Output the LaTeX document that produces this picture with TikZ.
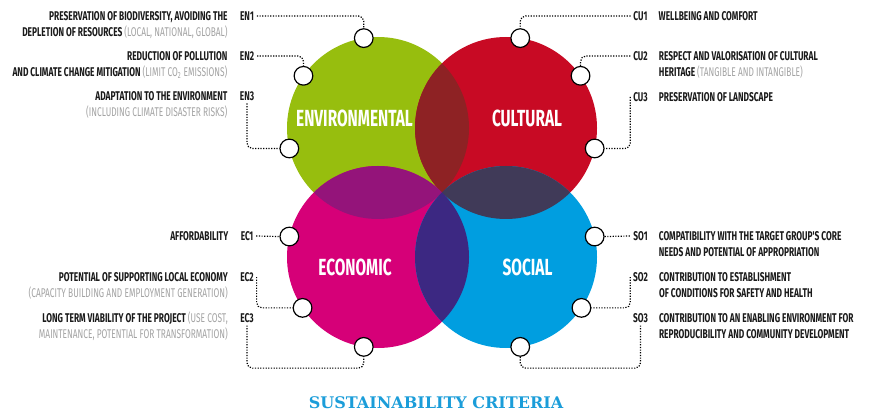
\documentclass[tikz,border=0pt]{standalone}
\usepackage{fontspec}
\usepackage{tikz}
\usetikzlibrary{positioning}
\newfontfamily\condfont[FakeStretch=0.66]{Fira Sans}
\newfontfamily\titlefont{DejaVu Serif}
\definecolor{envgreen}{HTML}{97BE0E}
\definecolor{culred}{HTML}{C80A24}
\definecolor{ecomagenta}{HTML}{D60078}
\definecolor{socblue}{HTML}{009EE0}
\definecolor{envcul}{HTML}{8E2224}
\definecolor{enveco}{HTML}{94147A}
\definecolor{culsoc}{HTML}{403A58}
\definecolor{ecosoc}{HTML}{3C2882}
\definecolor{textblack}{HTML}{1A1A1A}
\definecolor{notegray}{HTML}{A3A3A3}
\definecolor{titleblue}{HTML}{1B9DD9}
\tikzstyle{pillar} = [circle, minimum size=136.5pt, inner sep=0pt]
\tikzstyle{pillarname} = [text=white, font=\condfont\bfseries\fontsize{17.5}{18}\selectfont]
\tikzstyle{marker} = [circle, draw=black, fill=white, line width=0.9pt, minimum size=14pt, inner sep=0pt]
\tikzstyle{tag} = [text=textblack, font=\condfont\bfseries\fontsize{9.5}{12}\selectfont, inner sep=2pt]
\tikzstyle{crit} = [text=textblack, font=\condfont\bfseries\fontsize{9.5}{12}\selectfont, inner sep=0pt]
\tikzstyle{critleft} = [crit, align=right, anchor=base east]
\tikzstyle{critright} = [crit, align=left, anchor=base west]
\tikzstyle{twolines} = [yshift=-12pt]
\tikzstyle{leader} = [line width=0.9pt, dash pattern=on 0.9pt off 1.1pt, rounded corners=4pt]
\newcommand{\note}[1]{{\mdseries\color{notegray}#1}}

\begin{document}
\begin{tikzpicture}[x=0.75pt, y=-0.75pt]
    \useasboundingbox (0,0) rectangle (877,413);

    % Circles
    \node (env) [pillar, fill=envgreen] at (378,128) {};
    \node (cul) [pillar, fill=culred] at (506,128) {};
    \node (eco) [pillar, fill=ecomagenta] at (378,257) {};
    \node (soc) [pillar, fill=socblue] at (506,257) {};

    % Overlaps
    \begin{scope}
        \clip (env.center) circle[radius=68.25pt];
        \fill[envcul] (cul.center) circle[radius=68.25pt];
        \fill[enveco] (eco.center) circle[radius=68.25pt];
    \end{scope}
    \begin{scope}
        \clip (soc.center) circle[radius=68.25pt];
        \fill[culsoc] (cul.center) circle[radius=68.25pt];
        \fill[ecosoc] (eco.center) circle[radius=68.25pt];
    \end{scope}

    \node (envname) [pillarname] at ([shift={(-23.5,-10)}]env.center) {ENVIRONMENTAL};
    \node (culname) [pillarname] at ([shift={(21,-10)}]cul.center) {CULTURAL};
    \node (econame) [pillarname] at ([shift={(-23,10)}]eco.center) {ECONOMIC};
    \node (socname) [pillarname] at ([shift={(21.5,10)}]soc.center) {SOCIAL};

    % Markers
    \node (en1) [marker] at ([shift={(99:68.25pt)}]env.center) {};
    \node (en2) [marker] at ([shift={(145:68.25pt)}]env.center) {};
    \node (en3) [marker] at ([shift={(193:68.25pt)}]env.center) {};
    \node (cu1) [marker] at ([shift={(81:68.25pt)}]cul.center) {};
    \node (cu2) [marker] at ([shift={(35:68.25pt)}]cul.center) {};
    \node (cu3) [marker] at ([shift={(-13:68.25pt)}]cul.center) {};
    \node (ec1) [marker] at ([shift={(167:68.25pt)}]eco.center) {};
    \node (ec2) [marker] at ([shift={(214:68.25pt)}]eco.center) {};
    \node (ec3) [marker] at ([shift={(261:68.25pt)}]eco.center) {};
    \node (so1) [marker] at ([shift={(13:68.25pt)}]soc.center) {};
    \node (so2) [marker] at ([shift={(-34:68.25pt)}]soc.center) {};
    \node (so3) [marker] at ([shift={(-81:68.25pt)}]soc.center) {};

    % Tags left
    \node (en1tag) [tag] at (247,16) {EN1};
    \node (en2tag) [tag] at (247,56) {EN2};
    \node (en3tag) [tag] at (247,96) {EN3};
    \node (ec1tag) [tag] at (247,236) {EC1};
    \node (ec2tag) [tag] at (247,277) {EC2};
    \node (ec3tag) [tag] at (247,318) {EC3};

    % Tags right
    \node (cu1tag) [tag] at (640.5,16) {CU1};
    \node (cu2tag) [tag] at (640.5,56) {CU2};
    \node (cu3tag) [tag] at (640.5,97) {CU3};
    \node (so1tag) [tag] at (640.5,236) {SO1};
    \node (so2tag) [tag] at (640.5,277) {SO2};
    \node (so3tag) [tag] at (640.5,318) {SO3};

    % Criteria left
    \node (en1txt) [critleft, twolines] at ([xshift=-7pt]en1tag.base west) {PRESERVATION OF BIODIVERSITY, AVOIDING THE\\DEPLETION OF RESOURCES \note{(LOCAL, NATIONAL, GLOBAL)}};
    \node (en2txt) [critleft, twolines] at ([xshift=-7pt]en2tag.base west) {REDUCTION OF POLLUTION\\AND CLIMATE CHANGE MITIGATION \note{(LIMIT CO\textsubscript{2} EMISSIONS)}};
    \node (en3txt) [critleft, twolines] at ([xshift=-7pt]en3tag.base west) {ADAPTATION TO THE ENVIRONMENT\\\note{(INCLUDING CLIMATE DISASTER RISKS)}};
    \node (ec1txt) [critleft] at ([xshift=-7pt]ec1tag.base west) {AFFORDABILITY};
    \node (ec2txt) [critleft, twolines] at ([xshift=-7pt]ec2tag.base west) {POTENTIAL OF SUPPORTING LOCAL ECONOMY\\\note{(CAPACITY BUILDING AND EMPLOYMENT GENERATION)}};
    \node (ec3txt) [critleft, twolines] at ([xshift=-7pt]ec3tag.base west) {LONG TERM VIABILITY OF THE PROJECT \note{(USE COST,}\\\note{MAINTENANCE, POTENTIAL FOR TRANSFORMATION)}};

    % Criteria right
    \node (cu1txt) [critright] at ([xshift=6pt]cu1tag.base east) {WELLBEING AND COMFORT};
    \node (cu2txt) [critright, twolines] at ([xshift=6pt]cu2tag.base east) {RESPECT AND VALORISATION OF CULTURAL\\HERITAGE \note{(TANGIBLE AND INTANGIBLE)}};
    \node (cu3txt) [critright] at ([xshift=6pt]cu3tag.base east) {PRESERVATION OF LANDSCAPE};
    \node (so1txt) [critright, twolines] at ([xshift=6pt]so1tag.base east) {COMPATIBILITY WITH THE TARGET GROUP'S CORE\\NEEDS AND POTENTIAL OF APPROPRIATION};
    \node (so2txt) [critright, twolines] at ([xshift=6pt]so2tag.base east) {CONTRIBUTION TO ESTABLISHMENT\\OF CONDITIONS FOR SAFETY AND HEALTH};
    \node (so3txt) [critright, twolines] at ([xshift=6pt]so3tag.base east) {CONTRIBUTION TO AN ENABLING ENVIRONMENT FOR\\REPRODUCIBILITY AND COMMUNITY DEVELOPMENT};

    % Leaders
    \draw [leader] (en1tag.east) -| (en1.north);
    \draw [leader] (en2tag.east) -| (en2.north);
    \draw [leader] (en3tag.south) |- (en3.west);
    \draw [leader] (cu1tag.west) -| (cu1.north);
    \draw [leader] (cu2tag.west) -| (cu2.north);
    \draw [leader] (cu3tag.west) |- (cu3.east);
    \draw [leader] (ec1tag.east) -- (ec1.west);
    \draw [leader] (ec2tag.east) |- (ec2.west);
    \draw [leader] (ec3tag.south) |- ([yshift=-8.5pt]ec3.south) -- (ec3.south);
    \draw [leader] (so1.east) -- (so1tag.west);
    \draw [leader] (so2tag.west) |- (so2.east);
    \draw [leader] (so3tag.south) |- ([yshift=-8.5pt]so3.south) -- (so3.south);

    % Title
    \node (title) [text=titleblue, font=\titlefont\bfseries\fontsize{12}{12}\selectfont] at (436,403) {SUSTAINABILITY CRITERIA};

\end{tikzpicture}
\end{document}
